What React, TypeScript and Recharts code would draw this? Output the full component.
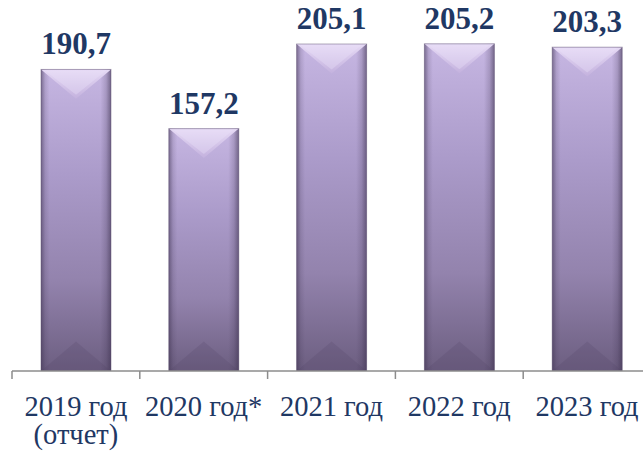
import { BarChart, Bar, XAxis, YAxis, LabelList } from 'recharts'

const years = ['2019 год', '2020 год*', '2021 год', '2022 год', '2023 год']
const notes = ['(отчет)', '', '', '', '']
const values = [190.7, 157.2, 205.1, 205.2, 203.3]

const data = years.map((year, i) => ({ year, note: notes[i], value: values[i] }))

const CHART_W = 660
const CHART_H = 453
const AXIS_Y = 371
const MARGIN = { top: 0, right: 9, left: 12, bottom: 0 }
const BAND = (CHART_W - MARGIN.left - MARGIN.right) / years.length
const SERIF = "'Times New Roman', 'Liberation Serif', 'DejaVu Serif', serif"
const NAVY = '#1F3864'

function GemBar(props: any) {
  const { x, y, width, height } = props
  if (!height || height <= 0) return null
  const w = width
  const tip = w * 0.42
  return (
    <g>
      <rect x={x} y={y} width={w} height={height} fill="url(#barBody)" />
      <rect x={x} y={y} width={w} height={height} fill="url(#barSides)" />
      <polygon points={`${x},${y} ${x + w},${y} ${x + w / 2},${y + tip}`} fill="url(#barTop)" />
      <polygon
        points={`${x + 4},${y + 1} ${x + w - 5},${y + 1} ${x + w / 2},${y + tip - 4}`}
        fill="#ece2f8"
        opacity={0.35}
      />
      <polygon
        points={`${x},${y + height} ${x + w},${y + height} ${x + w / 2},${y + height - tip}`}
        fill="#4f4262"
        opacity={0.2}
      />
      <rect x={x} y={y} width={w} height={height} fill="none" stroke="#5b4d6c" strokeOpacity={0.45} strokeWidth={1} />
    </g>
  )
}

function YearTick(props: any) {
  const { x, payload, index } = props
  const y = AXIS_Y
  const left = x - BAND / 2
  const note = notes[index]
  return (
    <g>
      <line x1={left} y1={y} x2={left} y2={y + 8} stroke="#8c8c8c" strokeWidth={1.5} />
      {index === years.length - 1 && (
        <line x1={left + BAND} y1={y} x2={left + BAND} y2={y + 8} stroke="#8c8c8c" strokeWidth={1.5} />
      )}
      <text x={x} y={y + 45} textAnchor="middle" fill={NAVY} fontFamily={SERIF} fontSize={28.5}>
        {payload.value}
      </text>
      {note && (
        <text x={x} y={y + 73} textAnchor="middle" fill={NAVY} fontFamily={SERIF} fontSize={28.5}>
          {note}
        </text>
      )}
    </g>
  )
}

export default function App() {
  return (
    <div
      style={{
        position: 'absolute',
        left: 0,
        top: 0,
        width: 643,
        height: 453,
        overflow: 'hidden',
        fontFamily: SERIF,
      }}
    >
      <BarChart width={CHART_W} height={CHART_H} data={data} margin={MARGIN} barSize={70}>
        <defs>
          <linearGradient id="barBody" x1="0" y1="0" x2="0" y2="1">
            <stop offset="0%" stopColor="#c6b6e2" />
            <stop offset="35%" stopColor="#ab9bca" />
            <stop offset="70%" stopColor="#9383ad" />
            <stop offset="100%" stopColor="#6c5e80" />
          </linearGradient>
          <linearGradient id="barSides" x1="0" y1="0" x2="1" y2="0">
            <stop offset="0%" stopColor="#3e3250" stopOpacity={0.55} />
            <stop offset="6%" stopColor="#3e3250" stopOpacity={0.15} />
            <stop offset="12%" stopColor="#3e3250" stopOpacity={0} />
            <stop offset="85%" stopColor="#3e3250" stopOpacity={0} />
            <stop offset="93%" stopColor="#3e3250" stopOpacity={0.2} />
            <stop offset="100%" stopColor="#3e3250" stopOpacity={0.6} />
          </linearGradient>
          <linearGradient id="barTop" x1="0" y1="0" x2="0" y2="1">
            <stop offset="0%" stopColor="#e6daf5" />
            <stop offset="100%" stopColor="#c4b2de" />
          </linearGradient>
        </defs>
        <XAxis
          dataKey="year"
          height={CHART_H - AXIS_Y}
          axisLine={{ stroke: '#8c8c8c', strokeWidth: 1.5 }}
          tickLine={false}
          tickSize={0}
          tickMargin={0}
          tick={<YearTick />}
          interval={0}
        />
        <YAxis hide domain={[20, 230]} allowDataOverflow />
        <Bar dataKey="value" shape={<GemBar />} isAnimationActive={false}>
          <LabelList
            dataKey="value"
            position="top"
            offset={15}
            formatter={(v: any) => String(v).replace('.', ',')}
            fill={NAVY}
            fontFamily={SERIF}
            fontSize={31}
            fontWeight="bold"
          />
        </Bar>
      </BarChart>
    </div>
  )
}
